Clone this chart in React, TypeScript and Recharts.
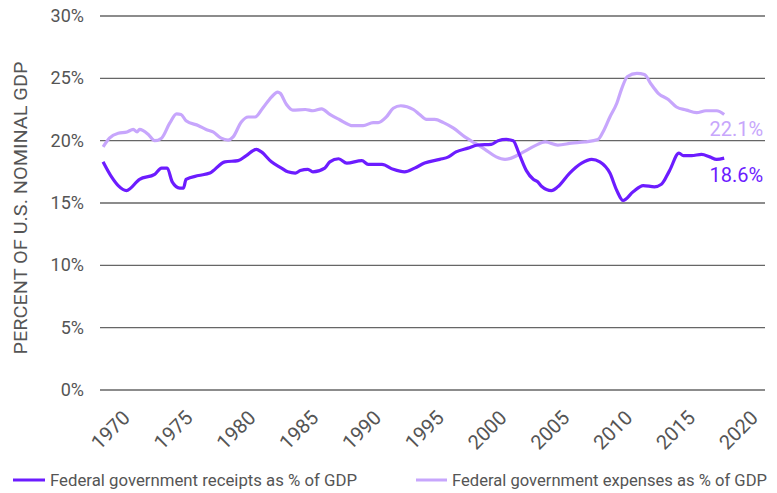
import React from "react";
import {
  LineChart, Line, XAxis, YAxis, CartesianGrid, Legend, ReferenceDot
} from "recharts";

// roughly quarterly where the lines bend
const receiptYears = [
  1968.0, 1968.67, 1969.2, 1969.86, 1970.9, 1972.1, 1972.65, 1973.1, 1973.5, 1974.1,
  1974.4, 1974.6, 1975.6, 1976.5, 1977.7, 1978.75, 1979.4, 1980.2, 1980.6, 1981.4,
  1982.2, 1982.7, 1983.3, 1983.7, 1984.3, 1984.7, 1985.65, 1986.05, 1986.75, 1987.4,
  1988.6, 1989.1, 1990.2, 1991.1, 1992.0, 1992.8, 1993.6, 1994.8, 1995.5, 1996.1,
  1997.05, 1997.85, 1998.9, 1999.45, 2000.1, 2000.65, 2001.1, 2001.7, 2002.25, 2002.6,
  2002.9, 2003.7, 2004.2, 2005.15, 2006.1, 2006.9, 2007.55, 2008.35, 2008.9, 2009.4,
  2010.2, 2011.0, 2011.9, 2012.45, 2013.1, 2013.85, 2014.2, 2014.85, 2015.65, 2016.3,
  2016.85, 2017.45,
];
const receiptValues = [
  18.3, 17.1, 16.4, 16.0, 16.9, 17.3, 17.8, 17.8, 16.7, 16.2,
  16.2, 16.9, 17.2, 17.4, 18.3, 18.4, 18.8, 19.3, 19.1, 18.3,
  17.8, 17.5, 17.4, 17.6, 17.7, 17.5, 17.8, 18.3, 18.55, 18.2,
  18.4, 18.1, 18.1, 17.7, 17.5, 17.8, 18.2, 18.5, 18.7, 19.1,
  19.4, 19.65, 19.7, 20.0, 20.1, 20.0, 19.0, 17.6, 16.9, 16.7,
  16.35, 16.0, 16.3, 17.4, 18.2, 18.5, 18.3, 17.4, 16.0, 15.2,
  15.9, 16.4, 16.3, 16.5, 17.6, 19.0, 18.8, 18.8, 18.9, 18.7,
  18.5, 18.6,
];

const expenseYears = [
  1968.0, 1968.5, 1969.2, 1969.9, 1970.4, 1970.7, 1970.9, 1971.6, 1972.1, 1972.65,
  1973.3, 1973.85, 1974.2, 1974.6, 1975.6, 1976.2, 1976.75, 1977.4, 1977.95, 1978.35,
  1979.0, 1979.55, 1980.1, 1980.7, 1981.4, 1981.9, 1982.1, 1982.6, 1983.1, 1984.1,
  1984.7, 1985.4, 1986.05, 1986.8, 1987.9, 1988.7, 1989.5, 1989.9, 1990.55, 1991.1,
  1991.7, 1992.7, 1993.2, 1993.75, 1994.4, 1995.1, 1995.9, 1996.8, 1997.6, 1998.4,
  1999.3, 2000.0, 2000.5, 2001.3, 2002.4, 2003.2, 2004.2, 2005.3, 2006.35, 2007.4,
  2007.8, 2008.35, 2008.9, 2009.3, 2009.75, 2010.5, 2011.1, 2011.65, 2012.2, 2013.0,
  2013.65, 2014.45, 2015.25, 2016.0, 2016.85, 2017.45,
];
const expenseValues = [
  19.5, 20.2, 20.6, 20.7, 20.9, 20.7, 20.9, 20.5, 20.0, 20.2,
  21.4, 22.15, 22.1, 21.6, 21.2, 20.9, 20.7, 20.2, 20.05, 20.3,
  21.5, 21.9, 21.9, 22.6, 23.5, 23.9, 23.8, 22.9, 22.45, 22.5,
  22.4, 22.55, 22.1, 21.7, 21.2, 21.2, 21.45, 21.45, 21.9, 22.6,
  22.8, 22.5, 22.1, 21.7, 21.7, 21.45, 21.0, 20.3, 19.8, 19.3,
  18.7, 18.5, 18.6, 19.0, 19.6, 19.9, 19.65, 19.8, 19.9, 20.1,
  20.7, 21.9, 23.0, 24.2, 25.15, 25.4, 25.3, 24.5, 23.8, 23.3,
  22.7, 22.45, 22.25, 22.4, 22.4, 22.1,
];

const yearTicks = [1970, 1975, 1980, 1985, 1990, 1995, 2000, 2005, 2010, 2015, 2020];
const percentTicks = [0, 5, 10, 15, 20, 25, 30];

const receiptsName = "Federal government receipts as % of GDP";
const expensesName = "Federal government expenses as % of GDP";
const yTitle = "PERCENT OF U.S. NOMINAL GDP";

const RECEIPTS = "#6c1cff";
const EXPENSES = "#c7a6fc";
const GREY = "#555";
const FONT = "Roboto, 'Noto Sans', sans-serif";

const receipts = receiptYears.map((year, i) => ({ year, value: receiptValues[i] }));
const expenses = expenseYears.map((year, i) => ({ year, value: expenseValues[i] }));
const lastReceipt = receipts[receipts.length - 1];
const lastExpense = expenses[expenses.length - 1];

function YearTick({ x, y, payload }: any) {
  const ax = x + 3;
  const ay = y + 29;
  return (
    <text
      x={ax} y={ay} textAnchor="end" fill={GREY} fontSize={20} fontFamily={FONT}
      transform={`rotate(-45, ${ax}, ${ay})`}
    >
      {payload.value}
    </text>
  );
}

function PercentTick({ x, y, payload }: any) {
  return (
    <text x={x} y={y + 6} textAnchor="end" fill={GREY} fontSize={18} fontFamily={FONT}>
      {payload.value}%
    </text>
  );
}

function AxisTitle({ viewBox }: any) {
  const cx = 27;
  const cy = viewBox.y + viewBox.height / 2 + 5;
  return (
    <text
      x={cx} y={cy} textAnchor="middle" fill={GREY} fontSize={19} fontFamily={FONT}
      textLength={293} lengthAdjust="spacingAndGlyphs"
      transform={`rotate(-90, ${cx}, ${cy})`}
    >
      {yTitle}
    </text>
  );
}

function EndLabel(color: string, text: string, dy: number) {
  return ({ viewBox }: any) => (
    <text
      x={viewBox.x + 39} y={viewBox.y + dy} textAnchor="end" fill={color}
      fontSize={20} fontFamily={FONT}
    >
      {text}
    </text>
  );
}

function LegendContent() {
  return (
    <svg width={777} height={35}>
      <line x1={13} x2={45} y1={22} y2={22} stroke={RECEIPTS} strokeWidth={3} />
      <text x={50} y={28} fill={GREY} fontSize={17} fontFamily={FONT}
        textLength={307} lengthAdjust="spacingAndGlyphs">{receiptsName}</text>
      <line x1={416} x2={447} y1={22} y2={22} stroke={EXPENSES} strokeWidth={3} />
      <text x={452} y={28} fill={GREY} fontSize={17} fontFamily={FONT}
        textLength={315} lengthAdjust="spacingAndGlyphs">{expensesName}</text>
    </svg>
  );
}

export default function App() {
  return (
    <div style={{ position: "absolute", left: 0, top: 0, width: 777, height: 493, background: "#fff" }}>
      <LineChart width={777} height={493} margin={{ top: 16, right: 12, bottom: 43, left: 0 }}>
        <CartesianGrid vertical={false} stroke="#666" strokeWidth={1.3} />
        <XAxis
          dataKey="year" type="number" domain={[1967.75, 2020.7]} ticks={yearTicks}
          allowDataOverflow axisLine={false} tickLine={false} tickSize={0} tickMargin={0}
          height={60} tick={<YearTick />} interval={0}
        />
        <YAxis
          type="number" domain={[0, 30]} ticks={percentTicks} width={100}
          axisLine={false} tickLine={false} tickSize={0} tickMargin={16}
          tick={<PercentTick />} label={{ content: <AxisTitle /> } as any}
        />
        <Legend
          layout="horizontal" verticalAlign="middle" align="center"
          wrapperStyle={{ top: 458, left: 0, width: 777, height: 35 }}
          content={<LegendContent />}
        />
        <Line
          data={expenses} dataKey="value" name={expensesName} type="monotone"
          stroke={EXPENSES} strokeWidth={3.2} dot={false} isAnimationActive={false}
        />
        <Line
          data={receipts} dataKey="value" name={receiptsName} type="monotone"
          stroke={RECEIPTS} strokeWidth={3.2} dot={false} isAnimationActive={false}
        />
        <ReferenceDot
          x={lastExpense.year} y={lastExpense.value} r={0} stroke="none" fill="none"
          label={{ content: EndLabel(EXPENSES, `${lastExpense.value.toFixed(1)}%`, 22) } as any}
        />
        <ReferenceDot
          x={lastReceipt.year} y={lastReceipt.value} r={0} stroke="none" fill="none"
          label={{ content: EndLabel(RECEIPTS, `${lastReceipt.value.toFixed(1)}%`, 24) } as any}
        />
      </LineChart>
    </div>
  );
}
